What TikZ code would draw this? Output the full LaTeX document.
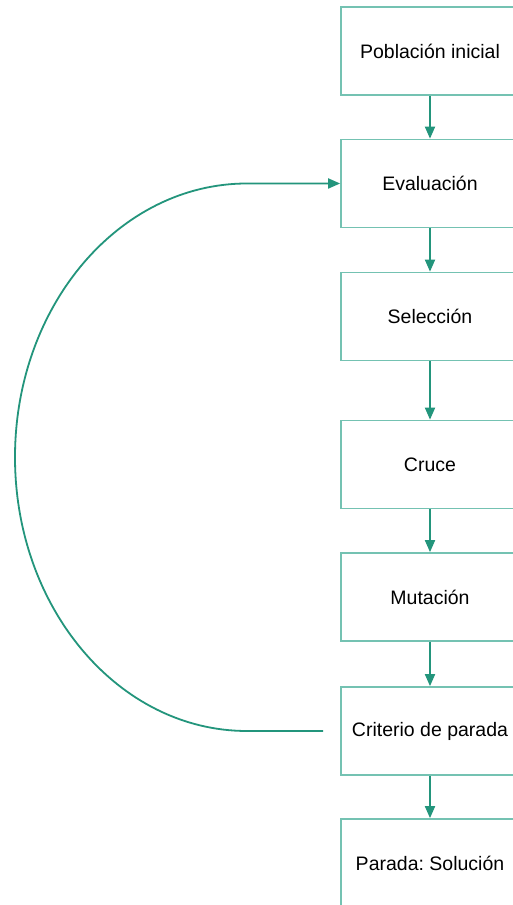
\documentclass[tikz,border=0pt]{standalone}
\usepackage{fontspec}
\setmainfont{Liberation Sans}
\usetikzlibrary{arrows.meta}
\definecolor{flowline}{HTML}{23957C}
\definecolor{boxline}{HTML}{74C2B2}
\frenchspacing
\begin{document}
\begin{tikzpicture}[x=1pt,y=1pt,
  stepbox/.style={draw=boxline, line width=1.7pt, fill=white,
    minimum width=178pt, minimum height=88pt, inner sep=0pt,
    font=\fontsize{19.5pt}{23pt}\selectfont},
  flow/.style={draw=flowline, line width=1.8pt,
    -{Triangle[length=12pt,width=10pt]}}]
\useasboundingbox (0,0) rectangle (513,905);
\fill[white] (0,0) rectangle (513,905);

\node[stepbox] (pob) at (430,854) {Población inicial};
\node[stepbox] (eva) at (430,721.5) {Evaluación};
\node[stepbox] (sel) at (430,588.5) {Selección};
\node[stepbox] (cru) at (430,440.5) {Cruce};
\node[stepbox] (mut) at (430,308) {Mutación};
\node[stepbox] (cri) at (430,174) {Criterio de parada};
\node[stepbox] (sol) at (430,42) {Parada: Solución};

\draw[flow] (pob.south) -- (eva.north);
\draw[flow] (eva.south) -- (sel.north);
\draw[flow] (sel.south) -- (cru.north);
\draw[flow] (cru.south) -- (mut.north);
\draw[flow] (mut.south) -- (cri.north);
\draw[flow] (cri.south) -- (sol.north);

% loop back from the stopping test to the evaluation step
\coordinate (loopstart) at ([xshift=-17pt]cri.west);
\draw[flow] (loopstart) -- (247,174)
  arc[start angle=270, end angle=90, x radius=232, y radius=273.75]
  -- (eva.west);
\end{tikzpicture}
\end{document}
